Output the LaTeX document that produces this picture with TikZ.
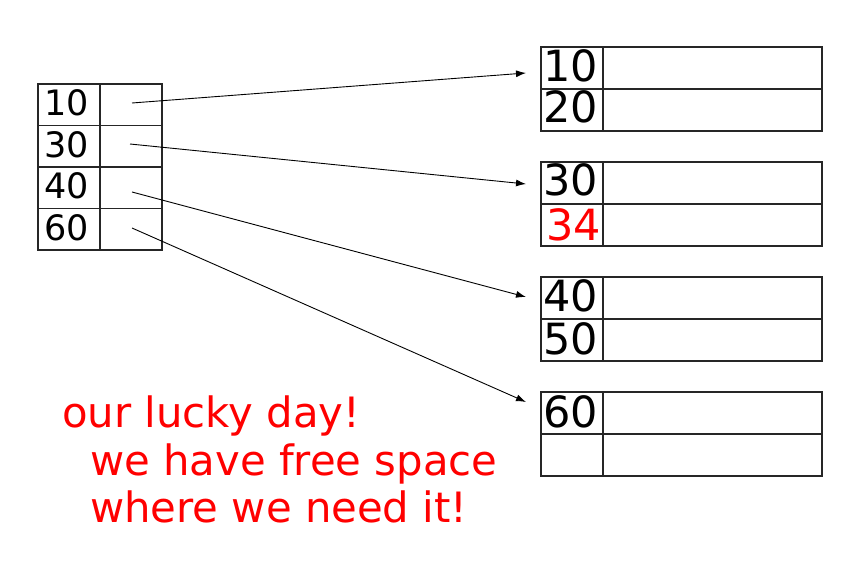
\documentclass[tikz,border=0pt]{standalone}
\usepackage{fontspec}
\setmainfont{DejaVu Sans}
\usetikzlibrary{arrows.meta}
\begin{document}
\begin{tikzpicture}[x=1pt,y=-1pt,
  cell/.style={draw=black!85, line width=1.2pt, inner sep=0pt, outer sep=0pt, anchor=north west},
  lcell/.style={cell, minimum width=62pt, minimum height=41.5pt},
  kcell/.style={cell, minimum width=62pt, minimum height=42pt},
  dcell/.style={cell, minimum width=219pt, minimum height=42pt},
  lnum/.style={anchor=base west, inner sep=0pt, font=\fontsize{35}{40}\selectfont},
  rnum/.style={anchor=base west, inner sep=0pt, font=\fontsize{43}{50}\selectfont},
  note/.style={anchor=base west, inner sep=0pt, text=red, font=\fontsize{41.8}{47}\selectfont},
  ptr/.style={draw=black, line width=0.9pt, -{Latex[length=10pt,width=7pt]}}
]
\useasboundingbox (0,0) rectangle (863,564);
% left index table
\foreach \i/\y in {1/84,2/125.5,3/167,4/208.5}{
  \node[lcell] (Lk\i) at (38,\y) {};
  \node[lcell] (Lp\i) at (100,\y) {};
}
\node[lnum] (t10) at (44,116) {10};
\node[lnum] (t30) at (44,157.5) {30};
\node[lnum] (t40) at (44,199) {40};
\node[lnum] (t60) at (44,240.5) {60};
% right pages
\foreach \p/\y in {1/47,2/162,3/277,4/392}{
  \node[kcell] (P\p ka) at (541,\y) {};
  \node[dcell] (P\p da) at (603,\y) {};
  \node[kcell] (P\p kb) at (541,\y+42) {};
  \node[dcell] (P\p db) at (603,\y+42) {};
}
\node[rnum] (r10) at (543,82) {10};
\node[rnum] (r20) at (543,123) {20};
\node[rnum] (r30) at (543,196) {30};
\node[rnum, text=red] (r34) at (546,241) {34};
\node[rnum] (r40) at (543,312) {40};
\node[rnum] (r50) at (543,355) {50};
\node[rnum] (r60) at (543,427) {60};
% arrows
\coordinate (s1) at (132,103);
\coordinate (s2) at (130,144);
\coordinate (s3) at (132,192);
\coordinate (s4) at (132,228);
\coordinate (e1) at (526,73);
\coordinate (e2) at (526,184);
\coordinate (e3) at (526,297);
\coordinate (e4) at (526,402);
\draw[ptr] (s1) -- (e1);
\draw[ptr] (s2) -- (e2);
\draw[ptr] (s3) -- (e3);
\draw[ptr] (s4) -- (e4);
% note
\node[note] (n1) at (62,428) {our lucky day!};
\node[note] (n2) at (90,475) {we have free space};
\node[note] (n3) at (90,522) {where we need it!};
\end{tikzpicture}
\end{document}
